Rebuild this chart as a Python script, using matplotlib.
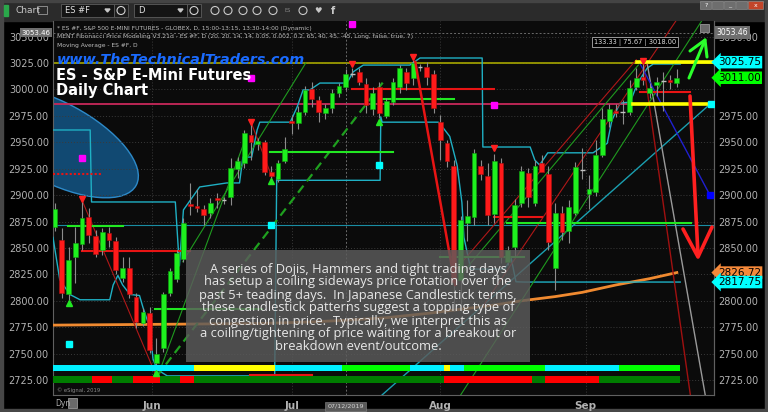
import matplotlib
matplotlib.use("Agg")
import matplotlib.pyplot as plt
import numpy as np
import pandas as pd
from matplotlib.patches import Rectangle, Ellipse

# ---- ES #F daily bars ----
holidays = ["2019-05-27", "2019-07-04", "2019-09-02"]
dates = pd.bdate_range("2019-05-10", "2019-09-20").drop(pd.to_datetime(holidays))

opens = [2870, 2858, 2806, 2841, 2854, 2879, 2861, 2848, 2864, 2857,
         2822, 2831, 2804, 2779, 2788, 2741, 2755, 2807, 2821, 2840,
         2892, 2890, 2887, 2883, 2897, 2895, 2898, 2925, 2930, 2957,
         2948, 2950, 2922, 2915, 2932, 2970, 2968, 2979, 3000, 2990,
         2978, 2982, 2997, 3002, 3015, 3016, 3005, 2981, 3002, 2975,
         2988, 3002, 3016, 3011, 3021, 3021, 3015, 2969, 2949, 2928,
         2820, 2874, 2879, 2928, 2918, 2882, 2930, 2837, 2851, 2893,
         2921, 2893, 2930, 2920, 2831, 2883, 2866, 2883, 2924, 2901,
         2903, 2938, 2970, 2980, 2979, 2979, 3002, 3012, 2997, 3004,
         3008, 3009, 3006]
highs = [2893, 2869, 2851, 2870, 2895, 2888, 2867, 2869, 2870, 2860,
         2841, 2841, 2807, 2793, 2794, 2765, 2808, 2831, 2848, 2878,
         2911, 2906, 2891, 2897, 2902, 2898, 2935, 2936, 2962, 2969,
         2954, 2952, 2928, 2933, 2955, 2976, 2984, 3003, 3007, 2994,
         2986, 3000, 3006, 3019, 3020, 3020, 3011, 3002, 3007, 2992,
         3011, 3023, 3020, 3028, 3024, 3026, 3018, 2976, 2952, 2933,
         2880, 2895, 2944, 2933, 2930, 2939, 2935, 2852, 2896, 2928,
         2926, 2933, 2938, 2928, 2893, 2890, 2895, 2931, 2945, 2919,
         2952, 2982, 2986, 2986, 2990, 3009, 3020, 3027, 3006, 3012,
         3016, 3014, 3019]
lows = [2866, 2803, 2801, 2817, 2848, 2855, 2841, 2843, 2851, 2825,
        2818, 2803, 2774, 2776, 2751, 2739, 2752, 2805, 2818, 2837,
        2881, 2884, 2872, 2878, 2888, 2892, 2891, 2916, 2926, 2933,
        2943, 2919, 2914, 2912, 2930, 2958, 2963, 2976, 2983, 2969,
        2972, 2978, 2993, 2999, 3012, 3004, 2978, 2976, 2973, 2973,
        2985, 2997, 2999, 3004, 3017, 3004, 2978, 2933, 2927, 2790,
        2790, 2857, 2872, 2914, 2872, 2874, 2836, 2834, 2842, 2889,
        2889, 2890, 2924, 2848, 2810, 2858, 2855, 2881, 2915, 2887,
        2899, 2936, 2964, 2974, 2967, 2976, 2999, 3004, 2992, 2994,
        2980, 3000, 3002]
closes = [2887, 2807, 2839, 2855, 2878, 2862, 2844, 2865, 2858, 2829,
          2831, 2806, 2780, 2789, 2753, 2750, 2806, 2828, 2845, 2874,
          2890, 2888, 2881, 2893, 2895, 2895, 2926, 2932, 2959, 2950,
          2951, 2922, 2918, 2930, 2944, 2968, 2979, 2999, 2991, 2979,
          2982, 2997, 3003, 3015, 3015, 3007, 2985, 2997, 2978, 2989,
          3007, 3020, 3006, 3025, 3021, 3012, 2982, 2952, 2932, 2818,
          2876, 2880, 2940, 2920, 2881, 2932, 2841, 2848, 2891, 2923,
          2898, 2928, 2922, 2856, 2883, 2865, 2889, 2927, 2924, 2906,
          2938, 2972, 2981, 2978, 2979, 3001, 3011, 3009, 3001, 3007,
          3008, 3007, 3011]

# moving average (orange), bar index / price
ma_x = [-0.3, 10, 20, 30, 38, 44, 49, 55, 60, 65, 69, 74, 78, 83, 88, 92]
ma_y = [2777, 2777.5, 2778, 2778.5, 2780, 2782, 2784, 2788, 2792, 2796,
        2800, 2804, 2808, 2815, 2821, 2826.72]

# stepped trailing bands (cyan)
band_hi_x = [-0.3, 5.2, 5.4, 17.8, 18.4, 19.0, 21.4, 25.4, 27.3, 27.8,
             29.1, 29.9, 30.3, 34.8, 35.8, 36.7, 37.7, 39.2, 43.2, 44.1,
             45.6, 52.5, 54.0, 63.2, 63.3, 70.3, 71.0, 71.7, 72.9, 79.6,
             81.7, 82.4, 83.6, 85.1, 85.8, 86.5, 87.6, 88.5, 92.5]
band_hi_y = [2961.6, 2961.6, 2893.5, 2893.5, 2833, 2886, 2907.7, 2911.5, 2911.5, 2936,
             2936, 2961.6, 2969, 2969, 2983, 2999.5, 2999.5, 3006, 3006, 3016.5,
             3023, 3023, 3029.7, 3029.7, 2945.5, 2945.5, 2933, 2928.5, 2940, 2940,
             2949, 2971, 2987, 2988, 2999.5, 3009, 3020, 3024, 3024]
band_lo_x = [-0.3, 0.7, 2.2, 3.7, 8.1, 8.6, 9.3, 10.0, 11.1, 12.5,
             13.0, 14.0, 14.5, 15.1, 16.6, 32.5, 32.8, 33.0, 48.1, 48.2,
             48.4, 56.7, 57.5, 58.4, 59.5, 60.2, 60.5, 61.5, 66.5, 67.5,
             68.2, 69.4, 92.5]
band_lo_y = [2860, 2820, 2806, 2801, 2801, 2815, 2824, 2815, 2806, 2805,
             2794, 2775, 2745, 2735, 2729, 2729, 2917, 2914, 2914, 2974,
             2969, 2969, 2963, 2955.5, 2928, 2893, 2860, 2830, 2830, 2840,
             2818, 2817.75, 2817.75]

# trend / projection lines: ([x0, x1], [y0, y1])
red_drop_aug = ([53.3, 59.2], [3026, 2815])
red_drop_may = ([4.0, 15.1], [2895, 2727])
red_drop_jun = ([29.0, 32.1], [2969, 2917])
red_proj = ([87.0, 94.0], [3027, 2711])
gray_proj = ([87.6, 96.2], [3025, 2711])
blue_proj = ([86.5, 96.9], [3025, 2900])
teal_chan = ([48.4, 96.9], [2711, 2986])
green_dash = ([15.1, 48.8], [2729, 3009])
green_jun_a = ([15.1, 28.1], [2727, 2952])
green_jun_b = ([18.9, 37.1], [2837, 3025])
green_aug = ([59.9, 86.3], [2823.5, 3023])
red_aug = ([59.2, 86.0], [2829, 3028])
green_sep = ([57.0, 96.2], [2681, 3070])
red_sep = ([62.9, 93.9], [2791, 3084])

# horizontal levels
olive_level = 3025.0
pink_level = 2986.2
teal_level = 2871.7
yellow_segs = [([86.1, 97.2], 3025.75), ([85.5, 96.7], 2986.2)]
red_segs = [([43.9, 64.9], 3000.4), ([86.5, 93.9], 2997.6), ([64.9, 72.0], 2879.3),
            ([4.0, 20.0], 2847.0), ([28.8, 38.0], 2729.5)]
red_dotted = ([-0.3, 7.1], 2920.0)
green_segs = [([1.9, 10.1], 2870.8), ([31.8, 50.0], 2940.8), ([48.4, 59.0], 2990.5),
              ([66.9, 94.1], 2873.6), ([14.8, 30.6], 2792.3), ([57.0, 69.4], 2841.5)]

# signal markers
mag_x, mag_y = [44, 29, 4, 65], [3062, 3010.8, 2935, 2985.3]
cyan_sq_x, cyan_sq_y = [32, 48, 2, 97], [2871.7, 2928.5, 2759, 2986.2]
blue_sq_x, blue_sq_y = [96.9], [2900]
up_x, up_y = [2, 15, 32, 48], [2798, 2732, 2913, 2969]
dn_x, dn_y = [4, 29, 44, 53, 65, 87], [2896, 2969, 3024, 3031, 2945, 3027]

# indicator strips, one code per bar
strip1 = "c" * 21 + "y" * 12 + "c" * 10 + "g" * 10 + "c" * 5 + "y" + "c" * 2 + "g" * 12 + "c" * 11 + "g" * 9
strip2 = "d" * 6 + "r" * 3 + "d" * 3 + "r" * 4 + "d" * 3 + "r" * 2 + "d" * 37 + "r" * 13 + "d" * 2 + "r" * 8 + "d" * 12
strip_cols = {"c": "#00f0ff", "y": "#ffff00", "g": "#00ff00", "d": "#007d00", "r": "#ff0000"}

# right-axis price tags
tags = [(3025.75, "3025.75", "#00ffff"), (3011.00, "3011.00", "#00ff00"),
        (2826.72, "2826.72", "#f5893a"), (2817.75, "2817.75", "#00ffff")]
cross_idx, cross_price = 43, 3053.46

note = ("A series of Dojis, Hammers and tight trading days\n"
        "has setup a coiling sideways price rotation over the\n"
        "past 5+ teading days.  In Japanese Candlestick terms,\n"
        "these candlestick patterns suggest a topping type of\n"
        "congestion in price.  Typically, we interpret this as\n"
        "a coiling/tightening of price waiting for a breakout or\n"
        "breakdown event/outcome.")

# ------------------------------------------------------------------
fig = plt.figure(figsize=(7.68, 4.12), dpi=100, facecolor="#000000")
scr = fig.add_axes([0, 0, 1, 1], zorder=0)
scr.set_xlim(0, 768)
scr.set_ylim(412, 0)
scr.axis("off")
P = scr.transData  # screen pixel coords

ax = fig.add_axes([53 / 768, 17 / 412, 661 / 768, 374 / 412], zorder=1)
ax.set_facecolor("#0b0b0b")
ax.set_xlim(-0.3, 97.5)
ax.set_ylim(2710.9, 3064.7)

# window chrome
scr.add_patch(Rectangle((0, 0), 768, 21, color="#2b2b2b"))
scr.add_patch(Rectangle((0, 0), 768, 2, color="#444444"))
scr.add_patch(Rectangle((0, 0), 3, 412, color="#474747"))
scr.add_patch(Rectangle((765, 0), 3, 412, color="#474747"))
scr.add_patch(Rectangle((0, 409), 768, 3, color="#474747"))
scr.add_patch(Rectangle((4, 5), 4, 11, color="#2aa84a"))
scr.text(15, 10.5, "Chart", color="#c8c8c8", fontsize=6.5, va="center")
scr.add_patch(Rectangle((38, 6), 9, 8, fc="none", ec="#9a9a9a", lw=0.6))
for x0, w, lab in [(61, 53, "ES #F"), (134, 53, "D")]:
    scr.add_patch(Rectangle((x0, 4), w, 13, fc="#141414", ec="#5c5c5c", lw=0.6))
    scr.text(x0 + 4, 10.5, lab, color="#e0e0e0", fontsize=6, va="center")
    scr.fill([x0 + w - 9, x0 + w - 4, x0 + w - 6.5], [9, 9, 12], color="#c8c8c8")
    scr.add_patch(Rectangle((x0 + w, 4), 14, 13, fc="#1c1c1c", ec="#5c5c5c", lw=0.6))
    scr.add_patch(Ellipse((x0 + w + 7, 10.5), 8, 8, fc="none", ec="#d0d0d0", lw=0.8))
for xi in [215, 228, 243, 257, 273, 303]:
    scr.add_patch(Ellipse((xi, 10.5), 8, 8, fc="none", ec="#c8c8c8", lw=0.8))
scr.text(288, 10.5, "ES", color="#888888", fontsize=3.5, va="center", ha="center")
scr.text(318, 10.5, "\u2665", color="#c8c8c8", fontsize=6, va="center", ha="center")
scr.text(333, 10.5, "f", color="#c8c8c8", fontsize=7, va="center", ha="center", weight="bold")
for i, (sym, col) in enumerate([("?", "#6e6e6e"), ("", "#6e6e6e"), ("_", "#6e6e6e"),
                                ("", "#6e6e6e"), ("x", "#c2452a")]):
    w = 12 if i < 4 else 16
    x0 = 700 + 12 * i
    scr.add_patch(Rectangle((x0, 1), w - 1, 8, fc=col, ec="#999999", lw=0.4))
    scr.text(x0 + w / 2, 5, sym, color="white", fontsize=4.5, ha="center", va="center")

# grid, axes
yt = np.arange(2725, 3051, 25)
day_num = dates.values.astype("datetime64[D]").astype(float)
month_starts = pd.to_datetime(["2019-06-01", "2019-07-01", "2019-08-01", "2019-09-01"])
month_pos = np.interp(month_starts.values.astype("datetime64[D]").astype(float),
                      day_num, np.arange(len(dates)))
ax.set_yticks(yt)
ax.set_yticklabels([f"{v:.2f}" for v in yt])
ax.set_xticks(month_pos)
ax.set_xticklabels([d.strftime("%b") for d in month_starts])
ax.tick_params(axis="y", length=0, colors="#b2b2b2", labelsize=7, pad=3)
ax.tick_params(axis="x", length=0, colors="#b2b2b2", labelsize=7.5, pad=4)
for lab in ax.get_xticklabels():
    lab.set_fontweight("bold")
# right scale: levels hidden behind the price tags are left out
tag_levels = [round(p / 25) * 25 for p, _, _ in tags]
right_ticks = [v for v in yt if v not in tag_levels]
sec = ax.secondary_yaxis("right")
sec.set_yticks(right_ticks)
sec.set_yticklabels([f"{v:.2f}" for v in right_ticks])
sec.tick_params(length=0, colors="#b2b2b2", labelsize=7, pad=3)
sec.spines["right"].set_color("#606060")
ax.grid(True, color="#3a3a3a", ls=(0, (1, 2)), lw=0.7)
ax.spines["top"].set_visible(False)
for side in ["left", "right", "bottom"]:
    ax.spines[side].set_color("#606060")
    ax.spines[side].set_linewidth(0.8)

# blue highlight ellipse
ax.add_patch(Ellipse((55, 142), 184, 80, angle=28, transform=P, fc="#124d78",
                     ec="#2f8fd0", lw=1, alpha=0.95, zorder=1))

# full-width levels
ax.axhline(olive_level, color="#9a9a00", lw=1.3, zorder=2)
ax.axhline(pink_level, color="#c8285a", lw=1.3, zorder=2)
ax.axhline(teal_level, color="#1a8da3", lw=0.8, zorder=2)
ax.axvline(cross_idx, color="#6a6a6a", lw=0.7, ls=(0, (2, 2)), zorder=2)
ax.axhline(cross_price, color="#6a6a6a", lw=0.7, ls=(0, (2, 2)), zorder=2)

# moving average and bands
ax.plot(ma_x, ma_y, color="#f08a30", lw=2, zorder=3)
ax.plot(band_hi_x, band_hi_y, color="#1fb0c4", lw=1, zorder=3)
ax.plot(band_lo_x, band_lo_y, color="#1fb0c4", lw=1, zorder=3)

# trend lines
ax.plot(*teal_chan, color="#1a9fb0", lw=1, zorder=3)
ax.plot(*gray_proj, color="#9a9a9a", lw=1, zorder=3)
ax.plot(*red_proj, color="#a01010", lw=1, zorder=3)
ax.plot(*blue_proj, color="#2020d0", lw=1, zorder=3)
ax.plot(*green_dash, color="#1fa01f", lw=1.6, ls=(0, (4, 2.5)), zorder=3)
for seg in [green_jun_a, green_jun_b, green_aug, green_sep]:
    ax.plot(*seg, color="#1f9a1f", lw=0.8, zorder=3)
for seg in [red_aug, red_sep, red_drop_may, red_drop_jun]:
    ax.plot(*seg, color="#b01818", lw=0.8, zorder=3)
ax.plot(*red_drop_aug, color="#e81414", lw=1.8, zorder=6)

# horizontal segments
for xs, y in yellow_segs:
    ax.plot(xs, [y, y], color="#ffff00", lw=2.6, zorder=6)
for xs, y in red_segs:
    ax.plot(xs, [y, y], color="#e81414", lw=1.5, zorder=3)
ax.plot(red_dotted[0], [red_dotted[1]] * 2, color="#e81414", lw=1.5, ls=(0, (1, 1)), zorder=3)
for xs, y in green_segs:
    ax.plot(xs, [y, y], color="#22e822", lw=1.5, zorder=3)

# candles
idx = np.arange(len(closes))
o, h, l, c = map(np.array, (opens, highs, lows, closes))
up = c > o + 0.5
dn = c < o - 0.5
dj = ~(up | dn)
ax.vlines(idx, l, h, color="#8c8c8c", lw=0.8, zorder=4)
ax.bar(idx[up], (c - o)[up], bottom=o[up], width=0.7, color="#1ef01e",
       edgecolor="#10a010", lw=0.4, zorder=5)
ax.bar(idx[dn], (o - c)[dn], bottom=c[dn], width=0.7, color="#ff1a1a",
       edgecolor="#b01010", lw=0.4, zorder=5)
ax.hlines(c[dj], idx[dj] - 0.35, idx[dj] + 0.35, color="#c0c0c0", lw=1, zorder=5)

# markers
ax.plot(mag_x, mag_y, "s", color="#ff00ff", ms=4.5, zorder=7)
ax.plot(cyan_sq_x, cyan_sq_y, "s", color="#00ffff", ms=4.5, zorder=7)
ax.plot(blue_sq_x, blue_sq_y, "s", color="#0000ff", ms=4.5, zorder=7)
ax.plot(up_x, up_y, "^", color="#22e822", ms=5, zorder=7)
ax.plot(dn_x, dn_y, "v", color="#ff2020", ms=5, zorder=7)

# indicator strips
ax.bar(idx, 5.8, bottom=2733.5, width=1.0, color=[strip_cols[k] for k in strip1],
       lw=0, zorder=6)
ax.bar(idx, 6.6, bottom=2722.3, width=1.0, color=[strip_cols[k] for k in strip2],
       lw=0, zorder=6)

# comment box
ax.add_patch(Rectangle((186, 250), 344, 112, transform=P, fc="#5c5c5c", alpha=0.82,
                       lw=0, zorder=8))
ax.text(358, 308, note, transform=P, ha="center", va="center", color="#e8e8e8",
        fontsize=9.3, family="Open Sans", linespacing=1.0, zorder=9)

# titles and study headers
ax.text(57, 59.5, "www.TheTechnicalTraders.com", transform=P, color="#1a6bff",
        fontsize=10.4, weight="bold", style="italic", va="center", zorder=9)
ax.text(56, 83, "ES - S&P E-Mini Futures\nDaily Chart", transform=P, color="white",
        fontsize=10.5, weight="bold", va="center", linespacing=1.05, zorder=9)
headers = ["* ES #F, S&P 500 E-MINI FUTURES - GLOBEX, D, 15:00-13:15, 13:30-14:00 (Dynamic)",
           "MENT Fibonacci Price Modeling V3.21d - ES #F, D (20, 20, 14, 14, 0.05, 0.002, 0.2, "
           "65, 40, 45, -45, Long, false, true, 7)",
           "Moving Average - ES #F, D"]
for k, t in enumerate(headers):
    ax.text(57, 28 + 8.6 * k, t, transform=P, color="#bdbdbd", fontsize=4.3,
            va="center", zorder=9)
ax.text(635, 42, "133.33 | 75.67 | 3018.00", transform=P, color="#dddddd", fontsize=4.8,
        ha="center", va="center", zorder=9,
        bbox=dict(boxstyle="square,pad=0.25", fc="#000000", ec="#b0b0b0", lw=0.6))
ax.add_patch(Rectangle((700, 24), 9, 8, transform=P, fc="#6a6a6a", ec="#aaaaaa", lw=0.5,
                       zorder=9))
ax.text(57, 390, "\u00a9 eSignal, 2019", transform=P, color="#8a8a8a", fontsize=3.8,
        va="center", zorder=9)

# hand-drawn arrows
ax.plot([690, 698], [96, 255], transform=P, color="#ff2020", lw=2.6, zorder=10,
        solid_capstyle="round")
ax.plot([683, 698, 712], [229, 257, 227], transform=P, color="#ff2020", lw=2.6,
        zorder=10, solid_capstyle="round")
ax.plot([689, 705], [78, 40], transform=P, color="#2bff2b", lw=2.2, zorder=10,
        solid_capstyle="round")
ax.plot([690, 705, 707], [51, 40, 57], transform=P, color="#2bff2b", lw=2.2,
        zorder=10, solid_capstyle="round")

# price tags on the right axis
ytr = ax.get_yaxis_transform()
for price, lab, col in tags:
    ax.text(1.006, price, lab, transform=ytr, color="black", fontsize=7.5, va="center",
            ha="left", zorder=11, clip_on=False,
            bbox=dict(boxstyle="larrow,pad=0.12", fc=col, ec="none"))
ax.text(1.004, cross_price, f"{cross_price:.2f}", transform=ytr, color="white",
        fontsize=5.5, va="center", ha="left", zorder=11, clip_on=False,
        bbox=dict(boxstyle="square,pad=0.25", fc="#6e6e6e", ec="none"))
ax.text(-0.004, cross_price, f"{cross_price:.2f}", transform=ytr, color="white",
        fontsize=5, va="center", ha="right", zorder=11, clip_on=False,
        bbox=dict(boxstyle="square,pad=0.2", fc="#6e6e6e", ec="none"))
ax.text(cross_idx, -0.03, dates[cross_idx].strftime("%m/%d/%Y"),
        transform=ax.get_xaxis_transform(), color="#d0d0d0", fontsize=4.6, ha="center",
        va="center", zorder=11, clip_on=False,
        bbox=dict(boxstyle="square,pad=0.3", fc="#5a5a5a", ec="#888888", lw=0.4))

# bottom-left status
scr.text(55, 403, "Dyn", color="#b0b0b0", fontsize=5.5, va="center")
scr.add_patch(Rectangle((68, 398), 9, 10, fc="#6a6a6a", ec="#aaaaaa", lw=0.5))

fig.savefig("out.png", dpi=100, facecolor=fig.get_facecolor())
